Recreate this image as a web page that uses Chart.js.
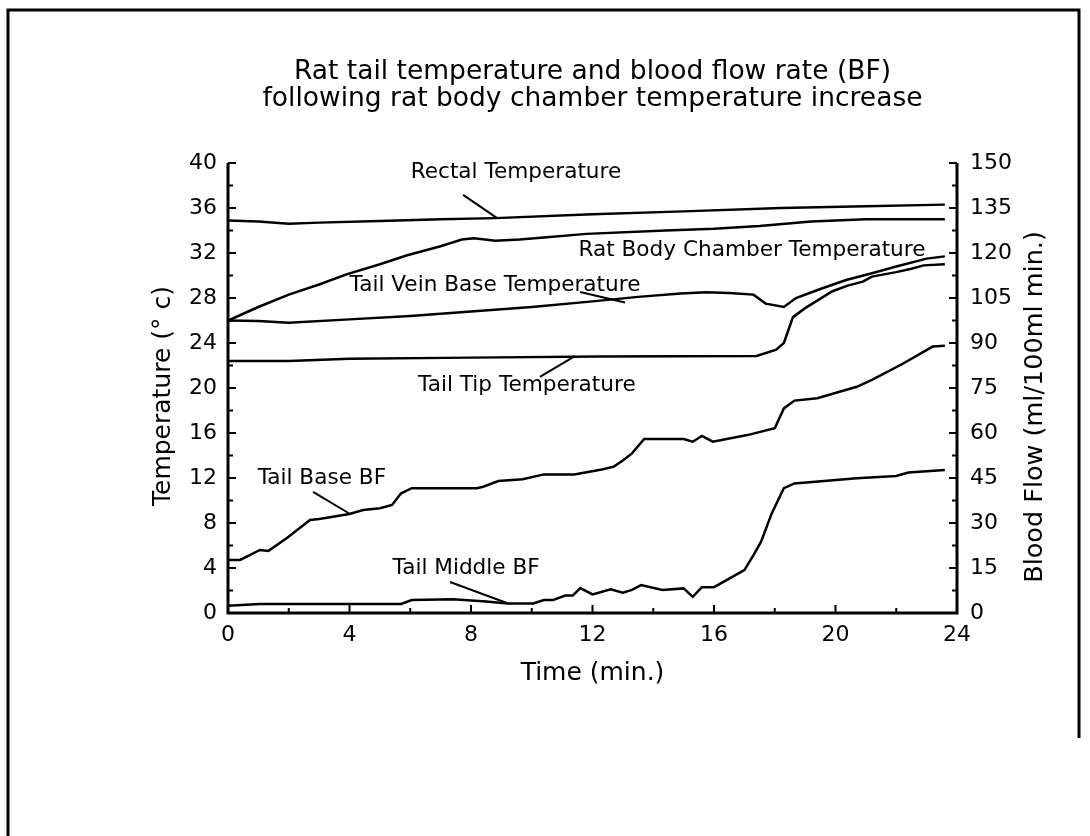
<!DOCTYPE html>
<html lang="en">
<head>
<meta charset="UTF-8">
<title>Rat tail temperature and blood flow rate</title>
<script src="https://cdn.jsdelivr.net/npm/chart.js@4.4.1/dist/chart.umd.min.js"></script>
<style>
  html, body { margin: 0; padding: 0; background: #fff; }
  #wrap { width: 1090px; height: 836px; }
</style>
</head>
<body>
<div id="wrap"><canvas id="myChart" width="1090" height="836"></canvas></div>
<script>
// --- data (time in min.) ---
var rectalTime = [0, 1, 2, 3, 5, 7, 8.8, 12, 15, 18.2, 21, 23.6];
var rectalTemp = [34.9, 34.8, 34.6, 34.7, 34.85, 35.0, 35.1, 35.45, 35.7, 36.0, 36.15, 36.3];

var chamberTime = [0, 0.5, 1, 2, 3, 3.9, 5, 5.9, 7, 7.7, 8.1, 8.8, 9.6, 10.5, 11.8, 14.4, 16, 17.5, 19.2, 21, 23.6];
var chamberTemp = [26.0, 26.6, 27.2, 28.3, 29.2, 30.1, 31.0, 31.8, 32.6, 33.2, 33.3, 33.1, 33.2, 33.4, 33.7, 34.0, 34.15, 34.4, 34.8, 35.0, 35.0];

var veinTime = [0, 1, 2, 4, 6, 8, 10, 12, 13.5, 14.9, 15.75, 16.5, 17.3, 17.7, 18.3, 18.7, 19.5, 20.35, 21.2, 22, 23, 23.6];
var veinTemp = [26.0, 25.95, 25.8, 26.1, 26.4, 26.8, 27.2, 27.7, 28.1, 28.4, 28.5, 28.45, 28.3, 27.5, 27.2, 28.0, 28.8, 29.6, 30.2, 30.8, 31.5, 31.7];

var tipTime = [0, 2, 4, 8, 12.2, 17.4, 18.05, 18.3, 18.6, 19.0, 19.9, 20.4, 20.9, 21.2, 22.0, 22.5, 22.9, 23.6];
var tipTemp = [22.4, 22.4, 22.6, 22.7, 22.8, 22.85, 23.4, 24.0, 26.3, 27.1, 28.6, 29.1, 29.45, 29.9, 30.3, 30.6, 30.9, 31.0];

var baseTime = [0, 0.4, 1.05, 1.33, 1.93, 2.7, 3.0, 4.0, 4.45, 5.0, 5.4, 5.7, 6.05, 8.2, 8.4, 8.9, 9.7, 10.4, 11.4, 12.35, 12.7, 13.0, 13.3, 13.7, 15.0, 15.3, 15.6, 15.96, 17.1, 18.0, 18.3, 18.65, 19.4, 20.7, 21.2, 22.2, 23.2, 23.6];
var baseFlow = [17.7, 17.7, 21, 20.7, 24.9, 31, 31.3, 33, 34.3, 34.9, 36, 39.9, 41.6, 41.6, 42.1, 44, 44.6, 46.2, 46.2, 47.9, 48.8, 50.8, 53.2, 58, 58, 57.1, 59, 57.1, 59.3, 61.6, 68.2, 70.8, 71.6, 75.4, 77.7, 83, 88.8, 89.1];

var middleTime = [0, 1.05, 5.7, 6.05, 7.4, 8.5, 9.2, 10.05, 10.4, 10.7, 11.1, 11.35, 11.6, 12.0, 12.6, 13.0, 13.3, 13.6, 14.3, 15.0, 15.3, 15.6, 16.0, 17.0, 17.3, 17.55, 17.9, 18.3, 18.65, 20.7, 22.0, 22.4, 23.6];
var middleFlow = [2.4, 3, 3, 4.3, 4.6, 3.8, 3.2, 3.2, 4.3, 4.3, 5.8, 5.8, 8.3, 6.2, 7.9, 6.8, 7.7, 9.3, 7.7, 8.2, 5.4, 8.6, 8.6, 14.3, 19.3, 23.8, 33.2, 41.6, 43.2, 44.9, 45.7, 46.8, 47.7];

// in-plot labels, anchored in (time, temperature) units, with leader lines
var seriesLabels = [
  { text: 'Rectal Temperature',            at: [9.48, 39.2],  lead: [[7.74, 37.16], [8.86, 35.1]] },
  { text: 'Rat Body Chamber Temperature',  at: [17.25, 32.27], lead: null },
  { text: 'Tail Vein Base Temperature',    at: [8.79, 29.16], lead: [[11.59, 28.53], [13.07, 27.6]] },
  { text: 'Tail Tip Temperature',          at: [9.84, 20.27], lead: [[10.27, 20.98], [11.42, 22.84]] },
  { text: 'Tail Base BF',                  at: [3.09, 12.0],  lead: [[2.8, 10.76], [4.02, 8.8]] },
  { text: 'Tail Middle BF',                at: [7.84, 4.0],   lead: [[7.31, 2.76], [9.18, 0.89]] }
];

var FONT = '"DejaVu Sans", sans-serif';

function pts(xs, ys) {
  return xs.map(function (x, i) { return { x: x, y: ys[i] }; });
}
function line(data, axis) {
  return { data: data, yAxisID: axis, borderColor: '#000', borderWidth: 2.5, pointRadius: 0, tension: 0, fill: false };
}

var decor = {
  id: 'decor',
  afterDraw: function (chart) {
    var ctx = chart.ctx, a = chart.chartArea, s = chart.scales;
    ctx.save();
    ctx.strokeStyle = '#000';
    ctx.fillStyle = '#000';

    // page frame
    ctx.lineWidth = 3;
    ctx.beginPath();
    ctx.moveTo(8, 836); ctx.lineTo(8, 10); ctx.lineTo(1079, 10); ctx.lineTo(1079, 738);
    ctx.stroke();

    // axes (open on top)
    ctx.beginPath();
    ctx.moveTo(a.left, a.top); ctx.lineTo(a.left, a.bottom);
    ctx.lineTo(a.right, a.bottom); ctx.lineTo(a.right, a.top);
    ctx.stroke();

    // inward ticks, major + minor
    ctx.lineWidth = 2;
    function ticks(scale, draw) {
      var tk = scale.ticks;
      var step = tk[1].value - tk[0].value;
      tk.forEach(function (t, i) {
        draw(scale.getPixelForValue(t.value), 8);
        if (i < tk.length - 1) draw(scale.getPixelForValue(t.value + step / 2), 5);
      });
    }
    ctx.beginPath();
    ticks(s.x, function (p, l) { ctx.moveTo(p, a.bottom); ctx.lineTo(p, a.bottom - l); });
    ticks(s.y, function (p, l) { ctx.moveTo(a.left, p); ctx.lineTo(a.left + l, p); });
    ticks(s.y1, function (p, l) { ctx.moveTo(a.right, p); ctx.lineTo(a.right - l, p); });
    ctx.stroke();

    // title
    ctx.textAlign = 'center';
    ctx.textBaseline = 'middle';
    ctx.font = '26.5px ' + FONT;
    var cx = (a.left + a.right) / 2;
    ctx.fillText('Rat tail temperature and blood flow rate (BF)', cx, 72);
    ctx.fillText('following rat body chamber temperature increase', cx, 99);

    // axis titles
    ctx.font = '25px ' + FONT;
    ctx.fillText('Time (min.)', cx, 673);
    ctx.save();
    ctx.translate(163, 396); ctx.rotate(-Math.PI / 2);
    ctx.fillText('Temperature (\u00b0 c)', 0, 0);
    ctx.restore();
    ctx.save();
    ctx.font = '25.5px ' + FONT;
    ctx.translate(1035, 407); ctx.rotate(-Math.PI / 2);
    ctx.fillText('Blood Flow (ml/100ml min.)', 0, 0);
    ctx.restore();

    // series labels and leaders
    ctx.font = '21.6px ' + FONT;
    ctx.lineWidth = 2;
    seriesLabels.forEach(function (lb) {
      ctx.fillText(lb.text, s.x.getPixelForValue(lb.at[0]), s.y.getPixelForValue(lb.at[1]));
      if (lb.lead) {
        ctx.beginPath();
        ctx.moveTo(s.x.getPixelForValue(lb.lead[0][0]), s.y.getPixelForValue(lb.lead[0][1]));
        ctx.lineTo(s.x.getPixelForValue(lb.lead[1][0]), s.y.getPixelForValue(lb.lead[1][1]));
        ctx.stroke();
      }
    });
    ctx.restore();
  }
};

var tickFont = { family: FONT, size: 22 };

new Chart(document.getElementById('myChart'), {
  type: 'line',
  data: {
    datasets: [
      line(pts(rectalTime, rectalTemp), 'y'),
      line(pts(chamberTime, chamberTemp), 'y'),
      line(pts(veinTime, veinTemp), 'y'),
      line(pts(tipTime, tipTemp), 'y'),
      line(pts(baseTime, baseFlow), 'y1'),
      line(pts(middleTime, middleFlow), 'y1')
    ]
  },
  options: {
    responsive: false,
    animation: false,
    layout: { padding: { left: 0, right: 0, top: 163, bottom: 0 } },
    plugins: { legend: { display: false }, tooltip: { enabled: false } },
    scales: {
      x: {
        type: 'linear', min: 0, max: 24,
        ticks: { stepSize: 4, padding: 9, color: '#000', font: tickFont, maxRotation: 0 },
        grid: { display: false, drawTicks: false },
        border: { display: false },
        afterFit: function (sc) { sc.height = 223; }
      },
      y: {
        position: 'left', min: 0, max: 40,
        ticks: { stepSize: 4, padding: 11, color: '#000', font: tickFont },
        grid: { display: false, drawTicks: false },
        border: { display: false },
        afterFit: function (sc) { sc.width = 228; }
      },
      y1: {
        position: 'right', min: 0, max: 150,
        ticks: { stepSize: 15, padding: 13, color: '#000', font: tickFont },
        grid: { display: false, drawTicks: false },
        border: { display: false },
        afterFit: function (sc) { sc.width = 133; }
      }
    }
  },
  plugins: [decor]
});
</script>
</body>
</html>
